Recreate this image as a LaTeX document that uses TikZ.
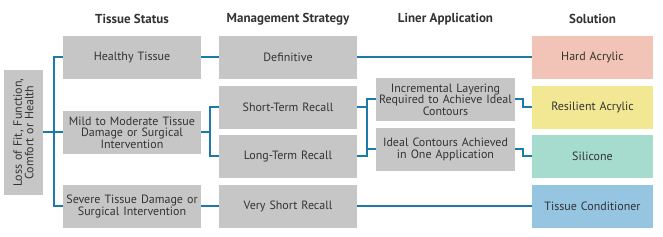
\documentclass[tikz,border=0pt]{standalone}
\usepackage{fontspec}
\setmainfont{PT Sans}
\definecolor{boxgray}{HTML}{C6C6C6}
\definecolor{linecol}{HTML}{1D7AA6}
\definecolor{pinkc}{HTML}{F1C4B7}
\definecolor{yellowc}{HTML}{F2E793}
\definecolor{tealc}{HTML}{A5DCCE}
\definecolor{bluec}{HTML}{96C5E2}
\definecolor{txt}{HTML}{333333}
\begin{document}
\begin{tikzpicture}[x=1pt,y=1pt,
  box/.style={fill=boxgray,draw=none,inner sep=1pt,align=center,text=txt,font=\fontsize{12}{11.5}\selectfont},
  colw/.style={minimum width=138pt,minimum height=43pt,text width=136pt},
  solw/.style={minimum width=121pt,minimum height=43pt,text width=119pt},
  head/.style={font=\fontsize{13}{14}\selectfont\bfseries,text=txt},
  conn/.style={draw=linecol,line width=2pt}]
\useasboundingbox (0,0) rectangle (663,-237);
% headers
\node[head] (h1) at (132,-19) {Tissue Status};
\node[head] (h2) at (288,-19) {Management Strategy};
\node[head] (h3) at (445.5,-19) {Liner Application};
\node[head] (h4) at (592.5,-19) {Solution};
% left box
\node[box,minimum width=125pt,minimum height=39pt,text width=123pt,rotate=90] (loss) at (23.5,-132.5) {Loss of Fit, Function,\\Comfort or Health};
% tissue status
\node[box,colw] (healthy) at (132,-57.5) {Healthy Tissue};
\node[box,colw] (mild) at (132,-132.5) {Mild to Moderate Tissue\\Damage or Surgical\\Intervention};
\node[box,colw] (severe) at (132,-206.5) {Severe Tissue Damage or\\Surgical Intervention};
% management
\node[box,colw] (def) at (288,-57.5) {Definitive};
\node[box,colw] (short) at (288,-107.5) {Short-Term Recall};
\node[box,colw] (long) at (288,-156.5) {Long-Term Recall};
\node[box,colw] (vshort) at (288,-206.5) {Very Short Recall};
% liner
\node[box,minimum width=139pt,minimum height=43pt,text width=137pt] (incr) at (445.5,-99.5) {Incremental Layering\\Required to Achieve Ideal\\Contours};
\node[box,minimum width=139pt,minimum height=43pt,text width=137pt] (ideal) at (445.5,-149.5) {Ideal Contours Achieved\\in One Application};
% solutions
\node[box,solw,fill=pinkc] (hard) at (592.5,-57.5) {Hard Acrylic};
\node[box,solw,fill=yellowc] (resil) at (592.5,-107.5) {Resilient Acrylic};
\node[box,solw,fill=tealc] (silic) at (592.5,-156.5) {Silicone};
\node[box,solw,fill=bluec] (tcond) at (592.5,-206.5) {Tissue Conditioner};
% junction coordinates
\coordinate (j1) at (54,0);
\coordinate (j2) at (210,0);
\coordinate (j3) at (367,0);
\coordinate (j4) at (523,0);
% connectors
\draw[conn] (healthy.west) -- (healthy.west -| j1) -- (severe.west -| j1) -- (severe.west);
\draw[conn] (loss.south) -- (mild.west);
\draw[conn] (mild.east) -- (mild.east -| j2);
\draw[conn] (short.west) -- (short.west -| j2) -- (long.west -| j2) -- (long.west);
\draw[conn] (healthy.east) -- (def.west);
\draw[conn] (def.east) -- (hard.west);
\draw[conn] (severe.east) -- (vshort.west);
\draw[conn] (vshort.east) -- (tcond.west);
\draw[conn] (incr.west) -- (incr.west -| j3) -- (long.east -| j3) -- (long.east);
\draw[conn] (short.east) -- (short.east -| j3);
\draw[conn] (ideal.west) -- (ideal.west -| j3);
\draw[conn] (incr.east) -- (incr.east -| j4) -- (resil.west -| j4) -- (resil.west);
\draw[conn] (ideal.east) -- (ideal.east -| j4) -- (silic.west -| j4) -- (silic.west);
\end{tikzpicture}
\end{document}
